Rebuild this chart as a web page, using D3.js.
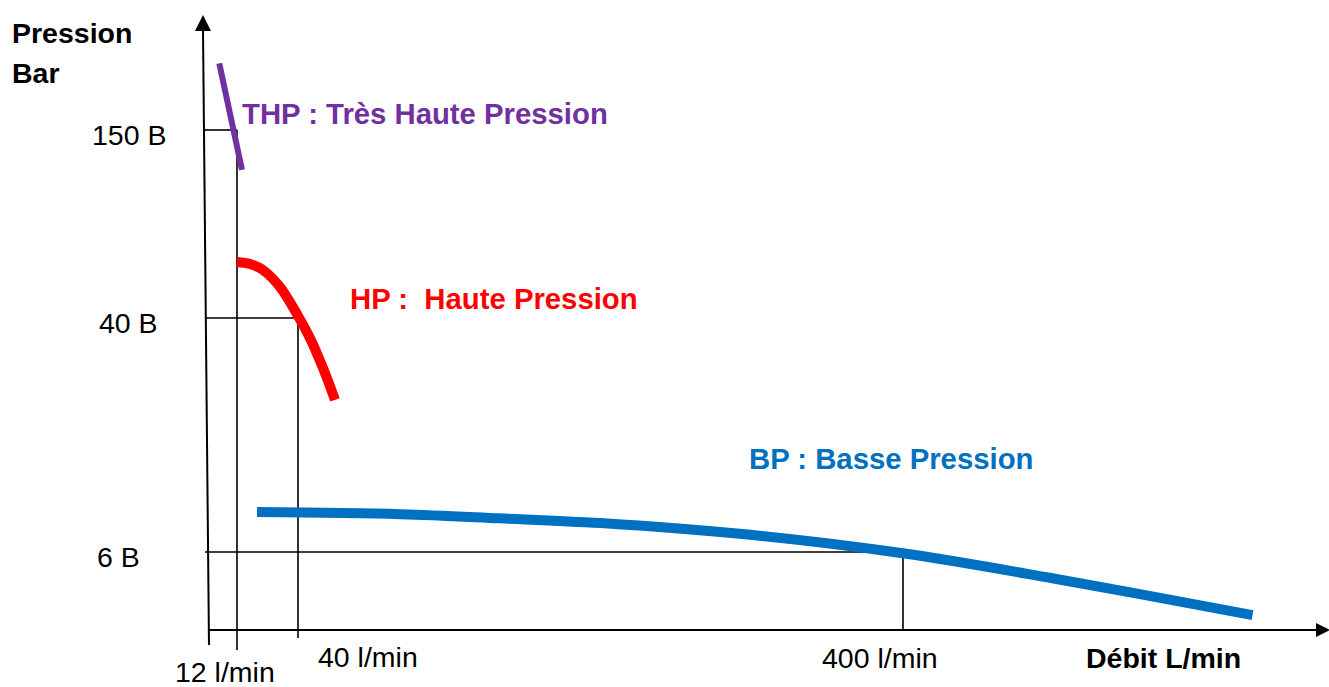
<!DOCTYPE html>
<html>
<head>
<meta charset="utf-8">
<script src="https://cdn.jsdelivr.net/npm/d3@7"></script>
<style>
  body { margin: 0; background: #fff; }
  text { font-family: "Liberation Sans", Arial, sans-serif; }
</style>
</head>
<body>
<svg id="chart"></svg>
<script>
// schematic values (debit l/min, pression bar)
const xTicks = [12, 40, 400];
const yTicks = [150, 40, 6];
const xTickLabels = ['12 l/min', '40 l/min', '400 l/min'];
const yTickLabels = ['150 B', '40 B', '6 B'];

const thp = [[4.4, 189], [14.3, 126.6]];
const hp = [[12, 72.8], [18, 71.6], [23.9, 68.1], [31.7, 58.2], [40, 41.2], [47.1, 37.1], [54.9, 32.7], [62, 28.1]];
const bp = [[21.2, 11.8], [101, 11.5], [160, 10.9], [220, 10.2], [309, 8.5], [400, 5.9], [488, 4.0], [608, 1.15]];

const width = 1329, height = 687;
const svg = d3.select('#chart').attr('width', width).attr('height', height);

// the drawing is not to scale: piecewise scales through the marked values
const x = d3.scaleLinear().domain([0, 12, 40, 400]).range([209, 237, 298, 903]);
const y = d3.scaleLinear().domain([0, 6, 40, 150]).range([630, 552, 318, 130]);

const black = '#000';

// guide lines
const guides = [
  { gx: 12, gy: 150, ext: 20 },
  { gx: 40, gy: 40, ext: 8 },
  { gx: 400, gy: 6, ext: 0 }
];
guides.forEach(g => {
  svg.append('line')
    .attr('x1', x(0) - 4).attr('x2', x(g.gx))
    .attr('y1', y(g.gy)).attr('y2', y(g.gy))
    .attr('stroke', black).attr('stroke-width', 1.6);
  svg.append('line')
    .attr('x1', x(g.gx)).attr('x2', x(g.gx))
    .attr('y1', y(g.gy)).attr('y2', y(0) + g.ext)
    .attr('stroke', black).attr('stroke-width', 1.6);
});

// axes
svg.append('line')
  .attr('x1', x(0)).attr('y1', y(0) + 15)
  .attr('x2', 203).attr('y2', 30)
  .attr('stroke', black).attr('stroke-width', 2);
svg.append('path')
  .attr('d', 'M203,15 L195,31 L211,31 Z')
  .attr('fill', black);

svg.append('line')
  .attr('x1', x(0)).attr('y1', y(0))
  .attr('x2', 1318).attr('y2', y(0))
  .attr('stroke', black).attr('stroke-width', 2);
svg.append('path')
  .attr('d', `M1330,${y(0)} L1316,${y(0) - 7} L1316,${y(0) + 7} Z`)
  .attr('fill', black);

// curves
const line = d3.line()
  .x(d => x(d[0]))
  .y(d => y(d[1]))
  .curve(d3.curveCatmullRom.alpha(0.5));

svg.append('path').datum(thp)
  .attr('d', line).attr('fill', 'none')
  .attr('stroke', '#7030A0').attr('stroke-width', 6);

svg.append('path').datum(hp)
  .attr('d', line).attr('fill', 'none')
  .attr('stroke', '#FF0000').attr('stroke-width', 10);

svg.append('path').datum(bp)
  .attr('d', line).attr('fill', 'none')
  .attr('stroke', '#0070C0').attr('stroke-width', 10);

// tick labels
const yLabelX = [92, 99, 97];
yTicks.forEach((v, i) => {
  svg.append('text')
    .attr('x', yLabelX[i]).attr('y', y(v) + 15)
    .attr('font-size', 28.5)
    .text(yTickLabels[i]);
});

const xLabelPos = [[175, 682], [318, 667], [822, 668]];
xTicks.forEach((v, i) => {
  svg.append('text')
    .attr('x', xLabelPos[i][0]).attr('y', xLabelPos[i][1])
    .attr('font-size', 28.5)
    .text(xTickLabels[i]);
});

// axis titles
svg.append('text').attr('x', 12).attr('y', 43)
  .attr('font-size', 28.5).attr('font-weight', 'bold').text('Pression');
svg.append('text').attr('x', 12).attr('y', 83)
  .attr('font-size', 28.5).attr('font-weight', 'bold').text('Bar');
svg.append('text').attr('x', 1086).attr('y', 668)
  .attr('font-size', 28.5).attr('font-weight', 'bold').text('Débit L/min');

// series labels
svg.append('text').attr('x', 242).attr('y', 124)
  .attr('font-size', 29.3).attr('font-weight', 'bold')
  .attr('fill', '#7030A0').text('THP : Très Haute Pression');
svg.append('text').attr('x', 350).attr('y', 309)
  .attr('font-size', 29.3).attr('font-weight', 'bold')
  .attr('fill', '#FF0000').attr('xml:space', 'preserve')
  .style('white-space', 'pre')
  .text('HP :  Haute Pression');
svg.append('text').attr('x', 749).attr('y', 469)
  .attr('font-size', 29.3).attr('font-weight', 'bold')
  .attr('fill', '#0070C0').text('BP : Basse Pression');
</script>
</body>
</html>
